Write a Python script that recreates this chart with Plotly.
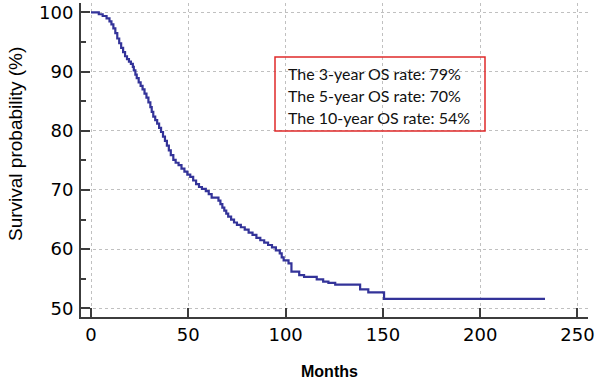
import plotly.graph_objects as go

# Kaplan-Meier step points (months, survival %)
months = [0, 4, 6, 8, 9.5, 10.5, 11.5, 12.5, 13.5, 14.5, 15.5, 16.5, 17.5, 18.5, 19.5,
          20.5, 21.5, 22, 22.8, 23.5, 24.5, 25.5, 26.5, 27.5, 28.5, 29.5, 30.5, 31.2,
          32, 33, 34, 35, 36, 37, 38, 39, 40, 41, 42.3, 43.5, 45, 46.5, 48, 49.5, 51,
          52.5, 54, 55.5, 57, 59, 60.5, 62, 65.5, 66.5, 67.5, 68.5, 69.5, 70.5, 72,
          73.5, 75, 77, 79, 81, 83, 85, 87, 89, 91, 93, 95, 97, 98, 99, 101.5, 103,
          107, 109.5, 116, 119.3, 122, 125.5, 138.3, 142.5, 150.6, 233.3]
survival = [100, 99.7, 99.4, 99.0, 98.5, 98.0, 97.3, 96.5, 95.6, 94.8, 94.0, 93.3, 92.6,
            92.1, 91.7, 91.3, 90.8, 90.2, 89.5, 88.9, 88.2, 87.6, 87.0, 86.3, 85.6, 84.8,
            84.0, 83.2, 82.4, 81.8, 81.2, 80.5, 79.8, 79.0, 78.3, 77.5, 76.7, 75.9, 75.1,
            74.6, 74.2, 73.6, 73.1, 72.6, 72.2, 71.6, 71.0, 70.5, 70.2, 69.8, 69.3, 68.7,
            68.2, 67.6, 67.0, 66.5, 66.0, 65.5, 65.0, 64.5, 64.1, 63.7, 63.3, 62.8, 62.4,
            61.9, 61.5, 61.1, 60.7, 60.3, 59.8, 59.3, 58.6, 58.1, 57.6, 56.2, 55.6, 55.3,
            54.9, 54.5, 54.3, 54.0, 53.2, 52.7, 51.6, 51.6]

x_ticks = [0, 50, 100, 150, 200, 250]
y_ticks = [50, 60, 70, 80, 90, 100]
box_lines = ["The 3-year OS rate: 79%", "The 5-year OS rate: 70%", "The 10-year OS rate: 54%"]

W, H = 597, 381
ml, mr, mt, mb = 81, 9, 3, 64
pw, ph = W - ml - mr, H - mt - mb

def px_x(p):
    return (p - ml) / pw

def px_y(p):
    return (H - mb - p) / ph

AX = "#3c3c3c"
TICKFONT = dict(family="DejaVu Sans, Liberation Sans, sans-serif", size=18, color="black")
fig = go.Figure()
fig.add_trace(go.Scatter(x=months, y=survival, mode="lines", line_shape="hv",
                         line=dict(color="#333399", width=2.2), showlegend=False,
                         hoverinfo="skip"))

fig.update_layout(
    width=W, height=H, margin=dict(l=ml, r=mr, t=mt, b=mb),
    paper_bgcolor="white", plot_bgcolor="white",
    font=dict(family="Liberation Sans, Arial, sans-serif", color="black"),
    xaxis=dict(range=[-5.14, 255.4], tickvals=x_ticks, ticks="inside", ticklen=9,
               tickwidth=2, tickcolor=AX, showline=True, linecolor=AX, linewidth=2,
               showgrid=True, gridcolor="#c0c0c0", griddash="dot", gridwidth=1,
               zeroline=False, tickfont=TICKFONT, fixedrange=True),
    yaxis=dict(range=[48.53, 101.6], tickvals=y_ticks, ticks="inside", ticklen=9,
               tickwidth=2, tickcolor=AX, showline=True, linecolor=AX, linewidth=2,
               showgrid=True, gridcolor="#c0c0c0", griddash="dot", gridwidth=1,
               zeroline=False, tickfont=TICKFONT, ticklabelstandoff=2,
               minor=dict(dtick=5, tick0=0, ticks="inside", ticklen=5, tickwidth=2,
                          tickcolor=AX, showgrid=False), fixedrange=True),
)

fig.add_shape(type="rect", xref="paper", yref="paper",
              x0=px_x(275), x1=px_x(485), y0=px_y(131), y1=px_y(57),
              line=dict(color="#e02a2a", width=1.5), fillcolor="rgba(0,0,0,0)")

for i, t in enumerate(box_lines):
    fig.add_annotation(text=t, xref="paper", yref="paper", x=px_x(286), y=px_y(74 + 21.8 * i),
                       xanchor="left", yanchor="middle", showarrow=False,
                       font=dict(family="Lato, Liberation Sans, sans-serif", size=16, color="#111"))

fig.add_annotation(text="<b>Months</b>", xref="paper", yref="paper", x=px_x(329), y=px_y(371),
                   xanchor="center", yanchor="middle", showarrow=False,
                   font=dict(size=16, color="black"))
fig.add_annotation(text="Survival probability (%)", xref="paper", yref="paper",
                   x=px_x(15), y=px_y(144), xanchor="center", yanchor="middle",
                   textangle=-90, showarrow=False, font=dict(size=19, color="black"))

fig.write_html("out.html", config={"displayModeBar": False},
               post_script="document.body.style.margin='0';document.body.style.padding='0';"
                           "document.documentElement.style.overflow='hidden';")
